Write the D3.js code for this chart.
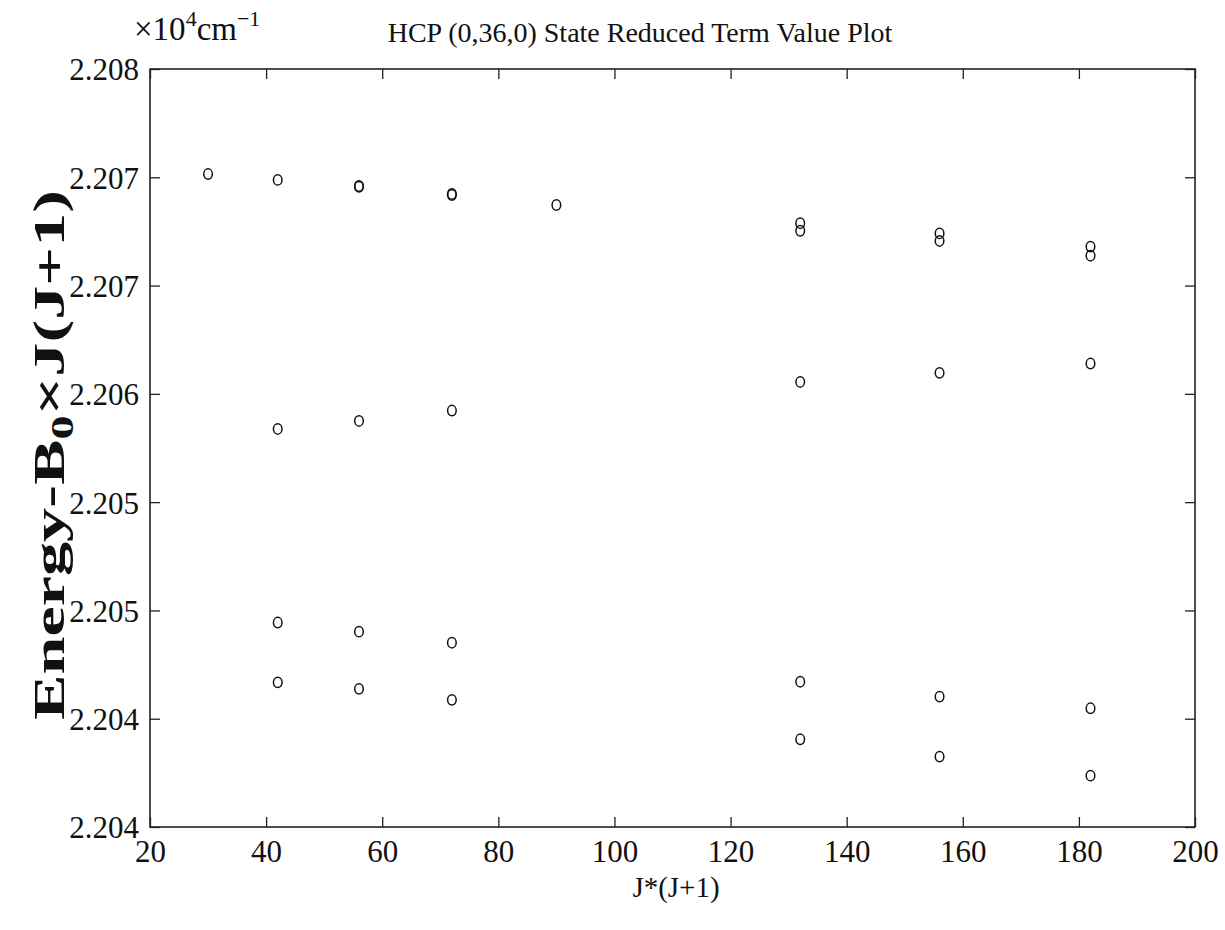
<!doctype html>
<html lang="en">
<head>
<meta charset="utf-8">
<title>HCP (0,36,0) State Reduced Term Value Plot</title>
<script src="https://cdnjs.cloudflare.com/ajax/libs/d3/7.8.5/d3.min.js"></script>
<style>
  body { margin: 0; background: #fff; }
  svg text { font-family: "Liberation Serif", "DejaVu Serif", serif; fill: #111; }
  .frame { fill: none; stroke: #222; stroke-width: 1.6; }
  .tick line { stroke: #222; stroke-width: 1.3; }
  .mark { fill: none; stroke: #111; stroke-width: 1.5; }
</style>
</head>
<body>
<script>
// J*(J+1) values and reduced term values (units of 10^4 cm^-1)
var xUpperA = [30, 42, 56, 72, 90, 132, 156, 182];
var yUpperA = [2.207515, 2.207488, 2.207460, 2.207423, 2.207372, 2.207288, 2.207241, 2.207180];
var xUpperB = [56, 72, 132, 156, 182];
var yUpperB = [2.207456, 2.207418, 2.207253, 2.207206, 2.207138];
var xMiddle = [42, 56, 72, 132, 156, 182];
var yMiddle = [2.206338, 2.206375, 2.206423, 2.206555, 2.206597, 2.206640];
var xLowerA = [42, 56, 72, 132, 156, 182];
var yLowerA = [2.205444, 2.205402, 2.205351, 2.205171, 2.205102, 2.205048];
var xLowerB = [42, 56, 72, 132, 156, 182];
var yLowerB = [2.205168, 2.205138, 2.205087, 2.204905, 2.204825, 2.204737];

var xTicks = [20, 40, 60, 80, 100, 120, 140, 160, 180, 200];
var yTicks = [2.2045, 2.2050, 2.2055, 2.2060, 2.2065, 2.2070, 2.2075, 2.2080];
var yTickLabels = ["2.204", "2.204", "2.205", "2.205", "2.206", "2.207", "2.207", "2.208"];

var width = 1225, height = 930;
var plotL = 150, plotR = 1195, plotT = 69, plotB = 827;

var svg = d3.select("body").append("svg")
    .attr("width", width)
    .attr("height", height);

var x = d3.scaleLinear().domain([20, 200]).range([plotL, plotR]);
var y = d3.scaleLinear().domain([2.2045, 2.2080]).range([plotB, plotT]);

// ticks point inward on all four sides, labels only bottom / left
svg.append("g")
    .attr("transform", "translate(0," + plotB + ")")
    .call(d3.axisBottom(x).tickValues(xTicks).tickSize(-10))
    .call(g => g.select(".domain").remove())
    .selectAll("text").style("font-size", "31px").attr("y", 12).attr("dy", "0.75em");

svg.append("g")
    .attr("transform", "translate(0," + plotT + ")")
    .call(d3.axisTop(x).tickValues(xTicks).tickSize(-10).tickFormat(""))
    .call(g => g.select(".domain").remove());

svg.append("g")
    .attr("transform", "translate(" + plotL + ",0)")
    .call(d3.axisLeft(y).tickValues(yTicks).tickSize(-10)
        .tickFormat((d, i) => yTickLabels[i]))
    .call(g => g.select(".domain").remove())
    .selectAll("text").style("font-size", "31px").attr("x", -11).attr("dy", "0.35em");

svg.append("g")
    .attr("transform", "translate(" + plotR + ",0)")
    .call(d3.axisRight(y).tickValues(yTicks).tickSize(-10).tickFormat(""))
    .call(g => g.select(".domain").remove());

svg.append("rect").attr("class", "frame")
    .attr("x", plotL).attr("y", plotT)
    .attr("width", plotR - plotL).attr("height", plotB - plotT);

// markers
var series = [
  [xUpperA, yUpperA], [xUpperB, yUpperB], [xMiddle, yMiddle],
  [xLowerA, yLowerA], [xLowerB, yLowerB]
];
series.forEach(function(s) {
  svg.append("g").selectAll("ellipse")
    .data(s[0].map((v, i) => [v, s[1][i]]))
    .join("ellipse")
    .attr("class", "mark")
    .attr("cx", d => x(d[0]))
    .attr("cy", d => y(d[1]))
    .attr("rx", 4.3)
    .attr("ry", 5.2);
});

// title and labels
svg.append("text")
    .attr("x", 640).attr("y", 42)
    .attr("text-anchor", "middle")
    .style("font-size", "28px")
    .text("HCP (0,36,0) State Reduced Term Value Plot");

var unit = svg.append("text")
    .attr("x", 134).attr("y", 40)
    .style("font-size", "33px");
unit.append("tspan").text("\u00d710");
unit.append("tspan").attr("dy", -14).style("font-size", "22px").text("4");
unit.append("tspan").attr("dy", 14).text("cm");
unit.append("tspan").attr("dy", -14).style("font-size", "22px").text("\u22121");

svg.append("text")
    .attr("x", 676).attr("y", 897)
    .attr("text-anchor", "middle")
    .style("font-size", "29px")
    .text("J*(J+1)");

var ylab = svg.append("text")
    .attr("transform", "translate(64,455) rotate(-90)")
    .attr("text-anchor", "middle")
    .attr("textLength", 530)
    .attr("lengthAdjust", "spacingAndGlyphs")
    .style("font-size", "44px")
    .style("font-weight", "bold");
ylab.append("tspan").text("Energy-B");
ylab.append("tspan").attr("dy", 9).style("font-size", "31px").text("0");
ylab.append("tspan").attr("dy", -9).text("\u00d7J(J+1)");
</script>
</body>
</html>
